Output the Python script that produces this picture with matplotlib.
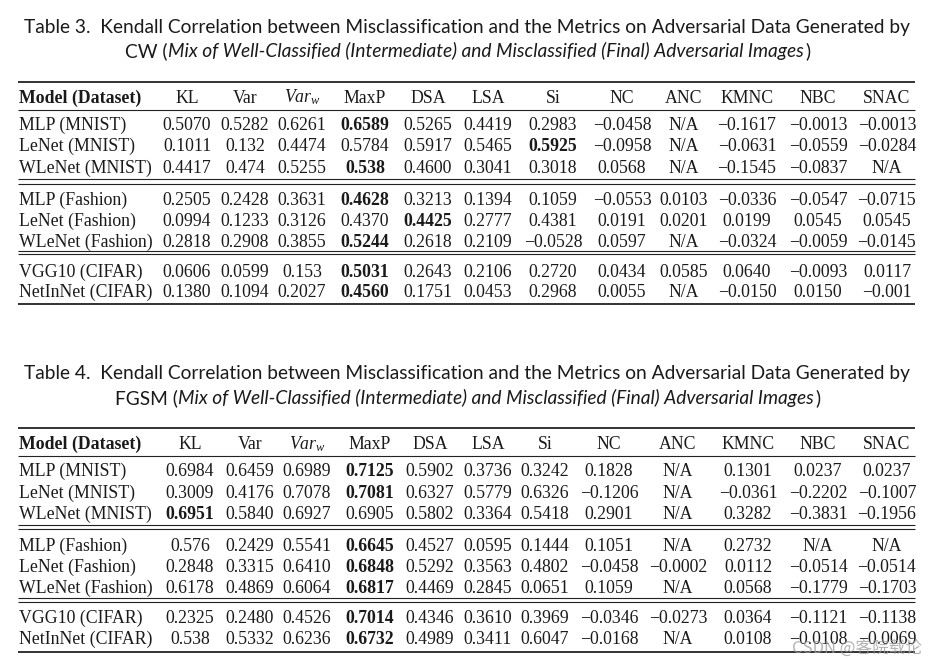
import matplotlib
matplotlib.use("Agg")
import matplotlib.pyplot as plt

M = "\u2212"

metrics = ["KL", "Var", "$Var_w$", "MaxP", "DSA", "LSA", "Si", "NC", "ANC", "KMNC", "NBC", "SNAC"]
models = ["MLP (MNIST)", "LeNet (MNIST)", "WLeNet (MNIST)",
          "MLP (Fashion)", "LeNet (Fashion)", "WLeNet (Fashion)",
          "VGG10 (CIFAR)", "NetInNet (CIFAR)"]

cw_values = [
    ["0.5070", "0.5282", "0.6261", "0.6589", "0.5265", "0.4419", "0.2983", M+"0.0458", "N/A", M+"0.1617", M+"0.0013", M+"0.0013"],
    ["0.1011", "0.132", "0.4474", "0.5784", "0.5917", "0.5465", "0.5925", M+"0.0958", "N/A", M+"0.0631", M+"0.0559", M+"0.0284"],
    ["0.4417", "0.474", "0.5255", "0.538", "0.4600", "0.3041", "0.3018", "0.0568", "N/A", M+"0.1545", M+"0.0837", "N/A"],
    ["0.2505", "0.2428", "0.3631", "0.4628", "0.3213", "0.1394", "0.1059", M+"0.0553", "0.0103", M+"0.0336", M+"0.0547", M+"0.0715"],
    ["0.0994", "0.1233", "0.3126", "0.4370", "0.4425", "0.2777", "0.4381", "0.0191", "0.0201", "0.0199", "0.0545", "0.0545"],
    ["0.2818", "0.2908", "0.3855", "0.5244", "0.2618", "0.2109", M+"0.0528", "0.0597", "N/A", M+"0.0324", M+"0.0059", M+"0.0145"],
    ["0.0606", "0.0599", "0.153", "0.5031", "0.2643", "0.2106", "0.2720", "0.0434", "0.0585", "0.0640", M+"0.0093", "0.0117"],
    ["0.1380", "0.1094", "0.2027", "0.4560", "0.1751", "0.0453", "0.2968", "0.0055", "N/A", M+"0.0150", "0.0150", M+"0.001"],
]
cw_bold = [(0, 3), (1, 6), (2, 3), (3, 3), (4, 4), (5, 3), (6, 3), (7, 3)]

fgsm_values = [
    ["0.6984", "0.6459", "0.6989", "0.7125", "0.5902", "0.3736", "0.3242", "0.1828", "N/A", "0.1301", "0.0237", "0.0237"],
    ["0.3009", "0.4176", "0.7078", "0.7081", "0.6327", "0.5779", "0.6326", M+"0.1206", "N/A", M+"0.0361", M+"0.2202", M+"0.1007"],
    ["0.6951", "0.5840", "0.6927", "0.6905", "0.5802", "0.3364", "0.5418", "0.2901", "N/A", "0.3282", M+"0.3831", M+"0.1956"],
    ["0.576", "0.2429", "0.5541", "0.6645", "0.4527", "0.0595", "0.1444", "0.1051", "N/A", "0.2732", "N/A", "N/A"],
    ["0.2848", "0.3315", "0.6410", "0.6848", "0.5292", "0.3563", "0.4802", M+"0.0458", M+"0.0002", "0.0112", M+"0.0514", M+"0.0514"],
    ["0.6178", "0.4869", "0.6064", "0.6817", "0.4469", "0.2845", "0.0651", "0.1059", "N/A", "0.0568", M+"0.1779", M+"0.1703"],
    ["0.2325", "0.2480", "0.4526", "0.7014", "0.4346", "0.3610", "0.3969", M+"0.0346", M+"0.0273", "0.0364", M+"0.1121", M+"0.1138"],
    ["0.538", "0.5332", "0.6236", "0.6732", "0.4989", "0.3411", "0.6047", M+"0.0168", "N/A", "0.0108", M+"0.0108", M+"0.0069"],
]
fgsm_bold = [(0, 3), (1, 3), (2, 0), (3, 3), (4, 3), (5, 3), (6, 3), (7, 3)]

cw_title1 = "Table 3.  Kendall Correlation between Misclassification and the Metrics on Adversarial Data Generated by"
cw_title2 = ["CW (", "Mix of Well-Classified (Intermediate) and Misclassified (Final) Adversarial Images", ")"]
fgsm_title1 = "Table 4.  Kendall Correlation between Misclassification and the Metrics on Adversarial Data Generated by"
fgsm_title2 = ["FGSM (", "Mix of Well-Classified (Intermediate) and Misclassified (Final) Adversarial Images", ")"]

plt.rcParams["mathtext.fontset"] = "custom"
plt.rcParams["mathtext.rm"] = "Liberation Serif"
plt.rcParams["mathtext.it"] = "Liberation Serif:italic"

W, H = 942, 664
fig = plt.figure(figsize=(W / 100, H / 100), dpi=100)
ax = fig.add_axes([0, 0, 1, 1])
ax.set_xlim(0, W)
ax.set_ylim(H, 0)
ax.axis("off")
renderer = fig.canvas.get_renderer()

TXT = "#1a1a1a"
SERIF = "Liberation Serif"
SANS = "Lato"
BODY = 12.8
TITLE_FS = 13.8


def width_px(t):
    bb = t.get_window_extent(renderer=renderer)
    return bb.width


def title_block(line1, parts2, y1, y2, cx):
    ax.text(cx, y1, line1, family=SANS, fontsize=TITLE_FS, ha="center", va="baseline", color=TXT)
    styles = ["normal", "italic", "normal"]
    arts = []
    for p, s in zip(parts2, styles):
        arts.append(ax.text(0, y2, p, family=SANS, fontsize=TITLE_FS, style=s, ha="left", va="baseline", color=TXT))
    ws = [width_px(a) for a in arts]
    x = cx - sum(ws) / 2
    for a, w in zip(arts, ws):
        a.set_x(x)
        x += w + (1.5 if a is arts[1] else 0)


def rule(y, lw):
    ax.plot([18, 915], [y, y], color="#222222", lw=lw, solid_capstyle="butt")


def table(values, bold, cols, header_y, row_ys, rules_y):
    top, hr, d1, d2, bottom = rules_y
    rule(top, 1.3)
    rule(hr, 0.8)
    for y in d1:
        rule(y, 0.8)
    for y in d2:
        rule(y, 0.8)
    rule(bottom, 1.3)
    ax.text(19, header_y, "Model (Dataset)", family=SERIF, fontsize=BODY, weight="bold",
            ha="left", va="baseline", color=TXT)
    for x, m in zip(cols, metrics):
        ax.text(x, header_y, m, family=SERIF, fontsize=BODY, ha="center", va="baseline", color=TXT)
    for r, (name, row) in enumerate(zip(models, values)):
        y = row_ys[r]
        ax.text(19, y, name, family=SERIF, fontsize=BODY, ha="left", va="baseline", color=TXT)
        for c, v in enumerate(row):
            w = "bold" if (r, c) in bold else "normal"
            ax.text(cols[c], y, v, family=SERIF, fontsize=BODY, weight=w,
                    ha="center", va="baseline", color=TXT)


# Table 3
title_block(cw_title1, cw_title2, 33.3, 57.3, 467)
cols3 = [187, 245, 302, 365, 428, 488, 553, 622, 684, 747, 818, 887]
rows3 = [130, 151, 172.7, 205, 226, 246.7, 276.7, 297.3]
table(cw_values, cw_bold, cols3, 102.7, rows3,
      (82.2, 109.5, (179.3, 183.5), (250.5, 254), 304))

# Table 4
title_block(fgsm_title1, fgsm_title2, 379.3, 404, 467)
cols4 = [190, 250, 307, 370, 430, 488, 545, 609, 678, 748, 818, 887]
rows4 = [475.7, 497.7, 519, 551, 571.7, 593.3, 623.3, 644]
table(fgsm_values, fgsm_bold, cols4, 449, rows4,
      (428.3, 456, (525, 529), (598, 602), 652))

# watermark
ax.text(857, 648, "CSDN @客院载论", family=["Noto Sans CJK SC", "DejaVu Sans"], fontsize=12,
        ha="center", va="center", color="#9a9a9a", alpha=0.75)

fig.savefig("out.png", dpi=100)
